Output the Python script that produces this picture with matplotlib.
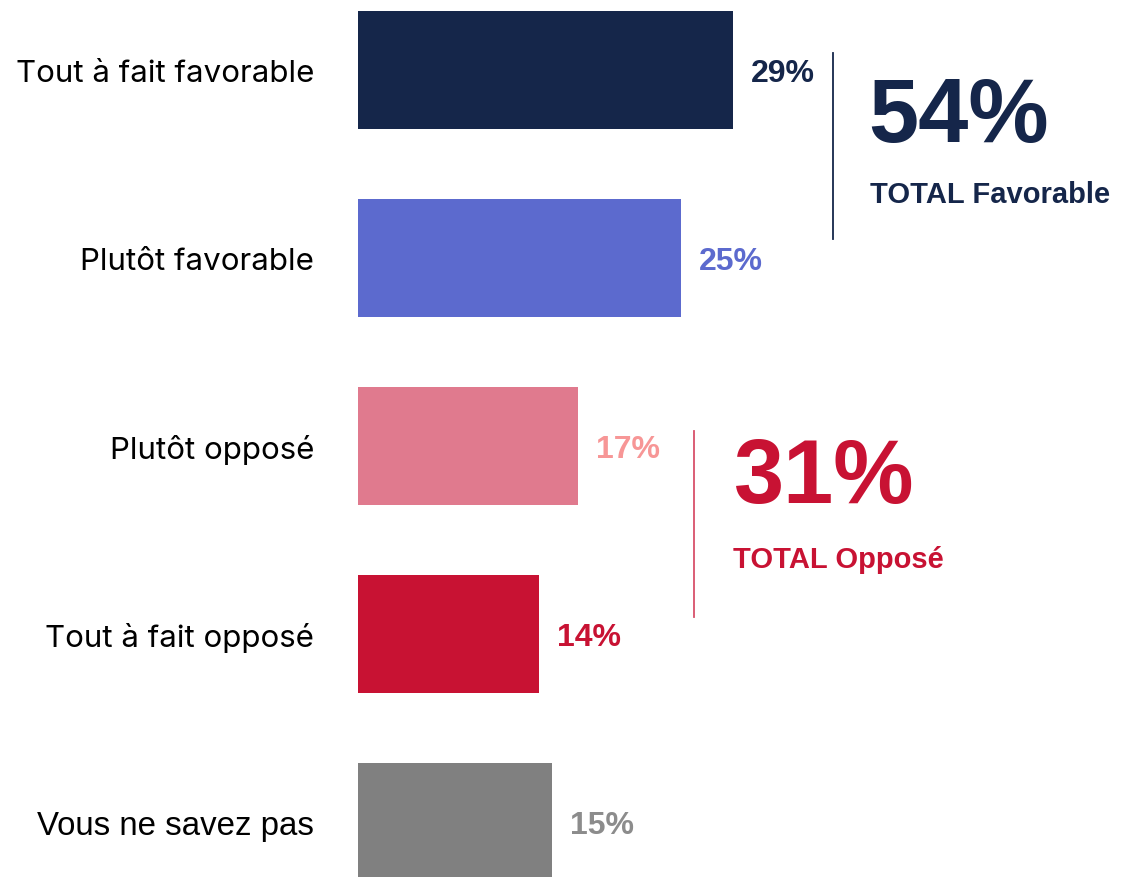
import matplotlib.pyplot as plt
import numpy as np

categories = ["Tout à fait favorable", "Plutôt favorable", "Plutôt opposé",
              "Tout à fait opposé", "Vous ne savez pas"]
values = [29, 25, 17, 14, 15]
bar_colors = ["#15264A", "#5C6ACE", "#E07A8E", "#C81233", "#808080"]
label_colors = ["#15264A", "#5C6ACE", "#F79696", "#C81233", "#8C8C8C"]

total_fav = 54
total_opp = 31

W, H = 1121, 878
fig = plt.figure(figsize=(W / 100, H / 100), dpi=100)
ax = fig.add_axes([358 / W, 0, 1 - 358 / W, 1])
ax.axis("off")

y = np.arange(len(values))
ax.barh(y, values, height=0.628, color=bar_colors)
ax.set_xlim(0, (W - 358) / 12.93)
ax.set_ylim((H - 71) / 188, -71 / 188)

for yi, v, cat, c in zip(y, values, categories, label_colors):
    ax.text(v + 18 / 12.93, yi, f"{v}%", color=c, fontsize=23, fontweight="bold",
            family="Liberation Sans", va="center_baseline", ha="left")
    if cat == "Vous ne savez pas":
        fam, fs = "Liberation Sans", 23.8
    else:
        fam, fs = "Inter", 22.5
    fig.text(314 / W, 1 - (71 + 188 * yi) / H, cat, fontsize=fs, family=fam,
             va="center_baseline", ha="right", color="black")

# brackets and totals
fig.add_artist(plt.Line2D([833 / W, 833 / W], [1 - 54 / H, 1 - 240 / H],
                          color="#15264A", lw=1.3))
fig.add_artist(plt.Line2D([694 / W, 694 / W], [1 - 432 / H, 1 - 618 / H],
                          color="#D8506A", lw=1.3))

fig.text(868 / W, 1 - 142 / H, f"{total_fav}%", fontsize=65, fontweight="bold",
         family="Liberation Sans", color="#15264A", va="baseline", ha="left")
fig.text(870 / W, 1 - 203 / H, "TOTAL Favorable", fontsize=21, fontweight="bold",
         family="Liberation Sans", color="#15264A", va="baseline", ha="left")
fig.text(734 / W, 1 - 503 / H, f"{total_opp}%", fontsize=65, fontweight="bold",
         family="Liberation Sans", color="#C81233", va="baseline", ha="left")
fig.text(733 / W, 1 - 568 / H, "TOTAL Opposé", fontsize=21, fontweight="bold",
         family="Liberation Sans", color="#C81233", va="baseline", ha="left")

fig.savefig("out.png", dpi=100, facecolor="white")
